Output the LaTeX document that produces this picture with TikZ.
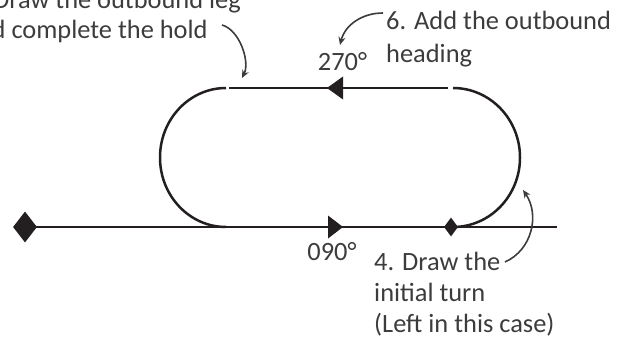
\documentclass[tikz,border=0pt]{standalone}
\usepackage{fontspec}
\setmainfont{Carlito}
\usetikzlibrary{shapes.geometric,arrows.meta}
\definecolor{ink}{HTML}{231F20}
\definecolor{note}{HTML}{3C3C3C}
\begin{document}
\begin{tikzpicture}[x=1pt,y=-1pt,
  track/.style={draw=ink,line width=2.5pt},
  fix/.style={diamond,fill=ink,inner sep=0pt},
  lbl/.style={text=note,inner sep=0pt,font=\fontsize{26.4}{31}\selectfont},
  callout/.style={draw=note,line width=1.6pt,-{Stealth[length=8pt,width=7pt]}}]
\useasboundingbox (0,0) rectangle (626,339);

% fixes on the inbound course
\node[fix,minimum width=24pt,minimum height=31pt] (fixA) at (25,227) {};
\coordinate (courseEnd) at (557,227);
\draw[track] (fixA.center) -- (courseEnd);
\node[fix,minimum width=14pt,minimum height=19pt] (fixB) at (451,227) {};

% the racetrack
\coordinate (leftTop) at (226,88);
\coordinate (rightTop) at (453,88);
\coordinate (outA) at (229,88);
\coordinate (outB) at (448,88);
\draw[track] (leftTop) arc[start angle=270,end angle=90,x radius=66,y radius=69.5];
\draw[track] (outA) -- (outB);
\draw[track] (rightTop) arc[start angle=270,end angle=450,x radius=67,y radius=69.5];

% direction marks
\coordinate (inMark) at (335.5,227);
\coordinate (outMark) at (335,88);
\fill[ink] ([shift={(-7.5,-11.5)}]inMark) -- ([shift={(7.5,0)}]inMark) -- ([shift={(-7.5,11.5)}]inMark) -- cycle;
\fill[ink] ([shift={(8,-11.5)}]outMark) -- ([shift={(-8,0)}]outMark) -- ([shift={(8,11.5)}]outMark) -- cycle;

% headings
\node[lbl,anchor=base] (hdgIn) at (332,260) {090°};
\node[lbl,anchor=base] (hdgOut) at (342.5,71) {270°};

% step notes
\node[lbl,align=left,anchor=north west,font=\fontsize{26.4}{33.4}\selectfont] (step6) at (386,10.5) {6. Add the outbound\\heading};
\node[lbl,align=left,anchor=north west] (step4) at (374,251.5) {4. Draw the\\initial turn\\(Left in this case)};
\node[lbl,align=left,anchor=north west,font=\fontsize{26.4}{30}\selectfont] (step5) at (-35,-10.5) {5. Draw the outbound leg\\and complete the hold};

% callouts
\coordinate (c5s) at (222,25);
\coordinate (c5e) at (242,78);
\coordinate (c6s) at (383,13);
\coordinate (c6e) at (340,45);
\coordinate (c4s) at (505,262);
\coordinate (c4e) at (523,190);
\draw[callout] (c5s) .. controls (240,30) and (250,62) .. (c5e);
\draw[callout] (c6s) .. controls (362,13) and (345,25) .. (c6e);
\draw[callout] (c4s) .. controls (532,250) and (540,215) .. (c4e);
\end{tikzpicture}
\end{document}
